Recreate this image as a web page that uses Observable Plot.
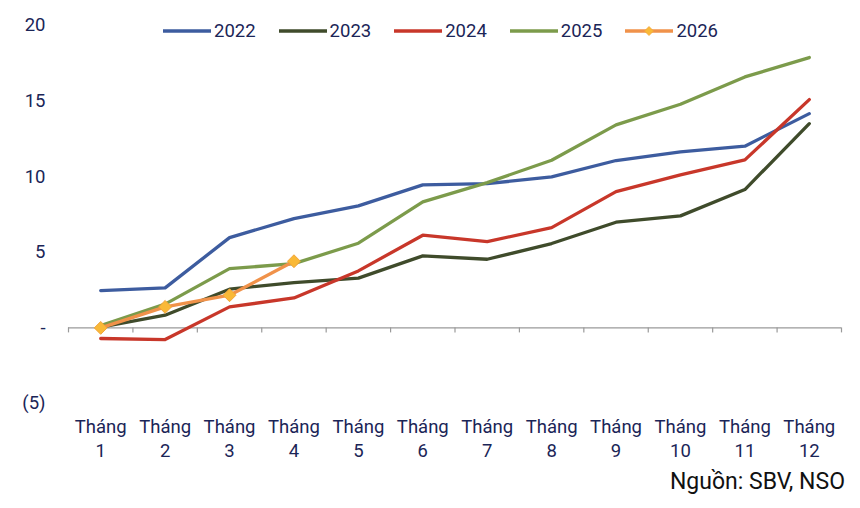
<!DOCTYPE html>
<html>
<head>
<meta charset="utf-8">
<script src="https://cdn.jsdelivr.net/npm/d3@7"></script>
<script src="https://cdn.jsdelivr.net/npm/@observablehq/plot@0.6"></script>
<style>
  html, body { margin: 0; padding: 0; background: #fff; }
  #wrap { position: relative; width: 860px; height: 508px; font-family: Roboto, sans-serif; color: #1b2557; }
  #legend { position: absolute; left: 163px; top: 19px; display: flex; gap: 23px; font-size: 18.5px; line-height: 24px; }
  .item { display: flex; align-items: center; gap: 3px; }
  #source { position: absolute; right: 15px; top: 467px; font-size: 23px; color: #111; line-height: 30px; }
</style>
</head>
<body>
<div id="wrap">
  <div id="chart"></div>
  <div id="legend"></div>
  <div id="source">Nguồn: SBV, NSO</div>
</div>
<script>
const months = [1, 2, 3, 4, 5, 6, 7, 8, 9, 10, 11, 12];
const monthLabel = "Tháng";
const series = ["2022", "2023", "2024", "2025", "2026"];
const v2022 = [2.47, 2.65, 5.97, 7.23, 8.07, 9.46, 9.54, 9.99, 11.07, 11.64, 12.02, 14.17];
const v2023 = [0.05, 0.84, 2.56, 3.00, 3.29, 4.76, 4.54, 5.58, 6.99, 7.41, 9.15, 13.51];
const v2024 = [-0.70, -0.77, 1.39, 1.98, 3.77, 6.13, 5.71, 6.63, 9.01, 10.12, 11.11, 15.10];
const v2025 = [0.15, 1.57, 3.92, 4.25, 5.60, 8.33, 9.61, 11.09, 13.43, 14.79, 16.60, 17.88];
const v2026 = [0.00, 1.39, 2.16, 4.41];
const yTicks = [-5, 0, 5, 10, 15, 20];
const yTickLabels = ["(5)", "-", "5", "10", "15", "20"];
const colors = ["#3d5c9f", "#3f4b2b", "#c8372a", "#7c9b4b", "#f0924a"];
const markerFill = "#f9b937";

const values = [v2022, v2023, v2024, v2025, v2026];
const rows = [];
series.forEach((s, si) => values[si].forEach((v, i) => rows.push({series: s, month: months[i], value: v})));
const rows2026 = rows.filter(d => d.series === "2026");
// band boundaries between months (for axis tick marks)
const bounds = [months[0] - 0.5, ...months.map(m => m + 0.5)];

const chart = Plot.plot({
  width: 860,
  height: 508,
  marginLeft: 68,
  marginRight: 19,
  marginTop: 25,
  marginBottom: 105,
  style: {fontFamily: "Roboto, sans-serif", fontSize: "18.5px", color: "#1b2557", background: "#fff"},
  x: {domain: [months[0] - 0.5, months[months.length - 1] + 0.5]},
  y: {domain: [yTicks[0], yTicks[yTicks.length - 1]]},
  color: {domain: series, range: colors},
  marks: [
    Plot.axisY(yTicks, {tickSize: 0, tickPadding: 23, tickFormat: d => yTickLabels[yTicks.indexOf(d)], fill: "#1b2557", label: null}),
    Plot.axisX(months, {tickSize: 0, tickPadding: 12, lineHeight: 1.3, tickFormat: d => `${monthLabel}\n${d}`, fill: "#1b2557", label: null}),
    Plot.ruleY([0], {stroke: "#9a9a9a", strokeWidth: 1.2}),
    Plot.ruleX(bounds, {y1: 0, y2: 0, insetBottom: -5, stroke: "#9a9a9a", strokeWidth: 1.2}),
    Plot.line(rows, {x: "month", y: "value", z: "series", stroke: "series", strokeWidth: 3.3, strokeLinejoin: "round"}),
    Plot.dot(rows2026, {x: "month", y: "value", symbol: "diamond2", r: 5.8, fill: markerFill, stroke: "#f2a43a", strokeWidth: 1})
  ]
});
document.getElementById("chart").appendChild(chart);

const legend = document.getElementById("legend");
series.forEach((s, i) => {
  const item = document.createElement("div");
  item.className = "item";
  const marker = s === "2026"
    ? `<path d="M24,1.5 L28.5,6 L24,10.5 L19.5,6 Z" fill="${markerFill}" stroke="#f2a43a" stroke-width="0.8"/>`
    : "";
  item.innerHTML = `<svg width="48" height="12"><line x1="0" x2="48" y1="6" y2="6" stroke="${colors[i]}" stroke-width="3.5"/>${marker}</svg><span>${s}</span>`;
  legend.appendChild(item);
});
</script>
</body>
</html>
